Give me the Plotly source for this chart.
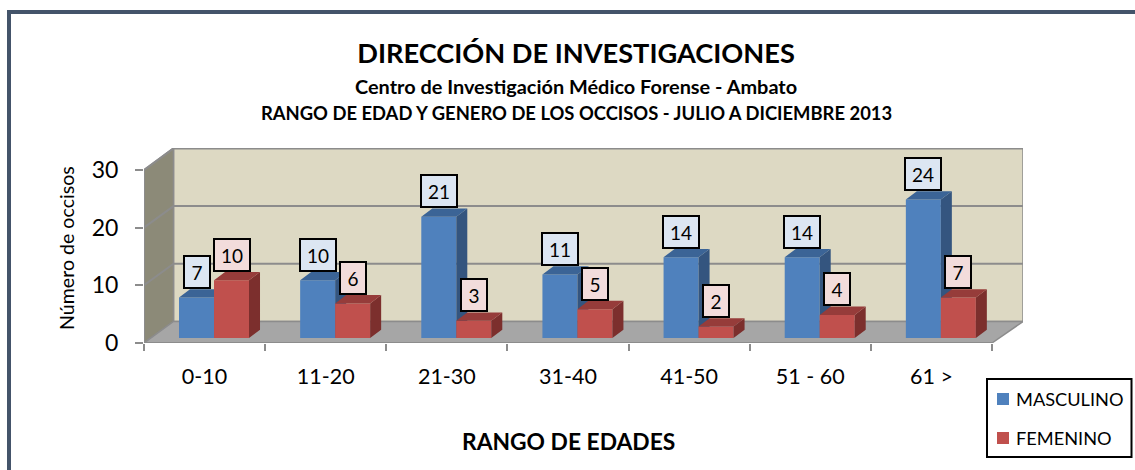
import plotly.graph_objects as go

categories = ["0-10", "11-20", "21-30", "31-40", "41-50", "51 - 60", "61 >"]
masculino = [7, 10, 21, 11, 14, 14, 24]
femenino = [10, 6, 3, 5, 2, 4, 7]
y_ticks = [0, 10, 20, 30]

W, H = 1135, 470
L, R, T, B = 144, 1023, 148, 343
CAT_PX = 121.14
Y_PX = 5.77
DX_BACK = 29.5 / CAT_PX
DY_BACK = 21.5 / Y_PX
DX_BAR = 11 / CAT_PX
DY_BAR = 8.3 / Y_PX
BAR_W = 35 / CAT_PX
BAR_BASE = 5 / Y_PX
X0, X1 = -0.5, 6.5
XMAX = X0 + (R - L) / CAT_PX
YMAX = (B - T) / Y_PX
FONT = "Lato"
GRID = "#8C8C8C"


def px(x):
    return (x - L) / (R - L)


def py(y):
    return (B - y) / (B - T)


def poly(points):
    return "M" + "L".join(f"{a},{b}" for a, b in points) + "Z"


def rect_shape(x0, y0, x1, y1, fill):
    return dict(type="rect", xref="paper", yref="paper", x0=px(x0), x1=px(x1),
                y0=py(y0), y1=py(y1), fillcolor=fill, line_width=0, layer="below")


def wall_shape(points, fill):
    return dict(type="path", xref="x", yref="y", path=poly(points), fillcolor=fill,
                line=dict(color=GRID, width=1.5), layer="below")


def line_shape(x0, y0, x1, y1, width=2):
    return dict(type="line", xref="x", yref="y", x0=x0, y0=y0, x1=x1, y1=y1,
                line=dict(color=GRID, width=width), layer="below")


def faces(values, offset):
    top_x, top_y, side_x, side_y = [], [], [], []
    for i, v in enumerate(values):
        l = i + offset
        r = l + BAR_W
        t = BAR_BASE + v
        top_x += [l, r, r + DX_BAR, l + DX_BAR, l, None]
        top_y += [t, t, t + DY_BAR, t + DY_BAR, t, None]
        side_x += [r, r + DX_BAR, r + DX_BAR, r, r, None]
        side_y += [t, t + DY_BAR, BAR_BASE + DY_BAR, BAR_BASE, t, None]
    return top_x, top_y, side_x, side_y


def series(name, values, offset, front, top, side, xa, ya):
    top_x, top_y, side_x, side_y = faces(values, offset)
    idx = list(range(len(values)))
    common = dict(xaxis=xa, yaxis=ya, hoverinfo="skip", showlegend=False)
    return [
        go.Bar(x=idx, y=values, base=BAR_BASE, width=BAR_W, offset=offset, name=name,
               marker=dict(color=front, line_width=0), xaxis=xa, yaxis=ya, showlegend=False),
        go.Scatter(x=side_x, y=side_y, mode="lines", fill="toself", fillcolor=side,
                   line=dict(width=0, color=side), **common),
        go.Scatter(x=top_x, y=top_y, mode="lines", fill="toself", fillcolor=top,
                   line=dict(width=0, color=top), **common),
    ]


OFF_M = -0.211
OFF_F = OFF_M + BAR_W
traces = series("MASCULINO", masculino, OFF_M, "#4F81BD", "#3B6496", "#34557F", "x", "y")
traces += series("FEMENINO", femenino, OFF_F, "#C0504D", "#963C3A", "#7C2F2D", "x2", "y2")
fig = go.Figure(traces)

shapes = [
    rect_shape(7, 10, 11, H, "#44546A"),
    rect_shape(7, 10, W, 14, "#44546A"),
    wall_shape([(X0 + DX_BACK, DY_BACK), (XMAX, DY_BACK), (XMAX, YMAX), (X0 + DX_BACK, YMAX)], "#DDD9C3"),
    wall_shape([(X0, 0), (X0 + DX_BACK, DY_BACK), (X0 + DX_BACK, YMAX), (X0, y_ticks[-1])], "#8C8A78"),
    wall_shape([(X0, 0), (X1, 0), (XMAX, DY_BACK), (X0 + DX_BACK, DY_BACK)], "#A6A6A6"),
]
for v in y_ticks[1:]:
    shapes.append(line_shape(X0, v, X0 + DX_BACK, v + DY_BACK))
    shapes.append(line_shape(X0 + DX_BACK, v + DY_BACK, XMAX, v + DY_BACK))
shapes.append(line_shape(X0, 0, X0, y_ticks[-1]))
shapes.append(line_shape(X0, 0, X1, 0))
# legend box and swatches
shapes.append(dict(type="rect", xref="paper", yref="paper", x0=px(987), x1=px(1131.5),
                   y0=py(379), y1=py(457), fillcolor="white", line=dict(color="black", width=2)))
shapes.append(rect_shape(997, 393, 1009, 405, "#4F81BD") | {"layer": "above"})
shapes.append(rect_shape(997, 432, 1009, 444, "#C0504D") | {"layer": "above"})


def text(x, y, s, size, bold=False, xanchor="center", angle=0):
    return dict(xref="paper", yref="paper", x=px(x), y=py(y), text=f"<b>{s}</b>" if bold else s,
                showarrow=False, xanchor=xanchor, yanchor="middle", textangle=angle,
                font=dict(family=FONT, size=size, color="black"))


annotations = [
    text(576, 86, "Centro de Investigación Médico Forense - Ambato", 19.9, True),
    text(576, 113, "RANGO DE EDAD Y GENERO DE LOS OCCISOS - JULIO A DICIEMBRE 2013", 18.4, True),
    text(568, 441, "RANGO DE EDADES", 22.8, True),
    text(66, 248, "Número de occisos", 19.6, angle=-90),
    text(1014, 399, "MASCULINO", 18.2, xanchor="left"),
    text(1014, 438, "FEMENINO", 18.2, xanchor="left"),
]


def labels(values, offset, fill):
    out = []
    for i, v in enumerate(values):
        out.append(dict(x=i + offset + BAR_W / 2, y=BAR_BASE + v, xref="x", yref="y",
                        text=str(v), showarrow=False, yanchor="bottom", xanchor="center",
                        yshift=8.5, width=24 if v < 10 else 34, height=30, borderpad=0,
                        bgcolor=fill, bordercolor="black", borderwidth=2, align="center",
                        font=dict(family=FONT, size=19, color="black")))
    return out


annotations += labels(masculino, OFF_M, "#DCE6F2")
annotations += labels(femenino, OFF_F, "#F2DCDB")

x_axis = dict(range=[X0, XMAX], showgrid=False, showline=False, zeroline=False, fixedrange=True)
y_axis = dict(range=[0, YMAX], showgrid=False, showline=False, zeroline=False, fixedrange=True)

fig.update_layout(
    width=W, height=H, autosize=False,
    margin=dict(l=L, r=W - R, t=T, b=H - B, pad=0),
    paper_bgcolor="white", plot_bgcolor="rgba(0,0,0,0)",
    barmode="overlay", showlegend=False,
    title=dict(text="<b>DIRECCIÓN DE INVESTIGACIONES</b>", x=576 / W, y=1 - 53 / H, xanchor="center",
               yanchor="middle", font=dict(family=FONT, size=27.2, color="black")),
    xaxis=dict(x_axis, tickmode="array", tickvals=list(range(len(categories))), ticktext=categories,
               ticks="", ticklabelstandoff=18, tickfont=dict(family=FONT, size=21.5, color="black"),
               minor=dict(tickmode="array", tickvals=[i - 0.5 for i in range(len(categories) + 1)],
                          ticks="outside", ticklen=7, tickwidth=2, tickcolor=GRID)),
    yaxis=dict(y_axis, tickmode="array", tickvals=y_ticks, ticks="outside", ticklen=8, tickwidth=2,
               ticklabelstandoff=12, tickcolor=GRID, tickfont=dict(family=FONT, size=23, color="black")),
    xaxis2=dict(x_axis, overlaying="x", visible=False),
    yaxis2=dict(y_axis, overlaying="y", visible=False),
    shapes=shapes, annotations=annotations,
)

fig.write_html("out.html", config=dict(displayModeBar=False),
               post_script="document.body.style.margin='0';")
